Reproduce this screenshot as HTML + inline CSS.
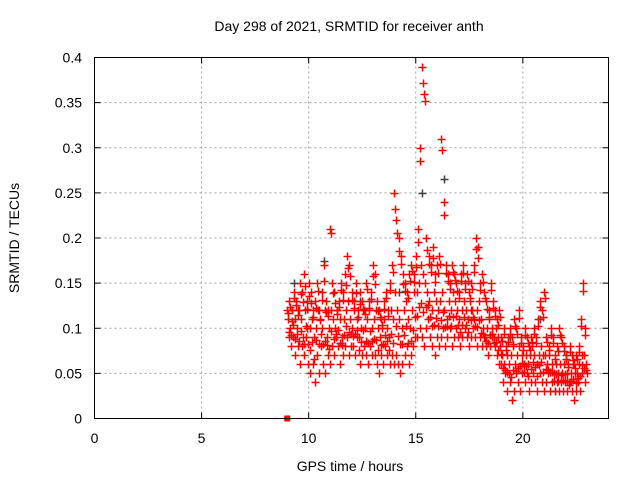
<!DOCTYPE html>
<html><head><meta charset="utf-8"><style>
body{margin:0;background:#fff}
svg{display:block;font-family:"Liberation Sans",sans-serif}
</style></head><body>
<svg id="chart" width="640" height="480" viewBox="0 0 640 480">
<rect width="640" height="480" fill="#fff"/>
<text x="349" y="31" font-size="14" text-anchor="middle">Day 298 of 2021, SRMTID for receiver anth</text>
<g id="grid"></g><g id="ticks"></g><g id="marks"></g>
<rect x="94.5" y="57.5" width="514" height="361" fill="none" stroke="#000"/>
<text x="350" y="471" font-size="14" text-anchor="middle">GPS time / hours</text>
<text transform="translate(19,238) rotate(-90)" font-size="14" text-anchor="middle">SRMTID / TECUs</text>
</svg>
<script>
const xTicks=[0,5,10,15,20];
const yTicks=[0,0.05,0.1,0.15,0.2,0.25,0.3,0.35,0.4];
const yTickLabels=["0","0.05","0.1","0.15","0.2","0.25","0.3","0.35","0.4"];
const startHour=9.0;
const stepHour=0.1;
const seriesA=[.12,.13,.12,.14,.13,.12,.15,.14,.16,.13,
.15,.14,.12,.13,.15,.12,.14,.17,.13,.12,
.21,.15,.14,.12,.13,.15,.14,.16,.18,.17,
.14,.13,.15,.12,.14,.13,.12,.15,.13,.14,
.17,.16,.13,.12,.11,.13,.14,.12,.15,.17,
.25,.22,.2,.18,.16,.15,.14,.16,.17,.16,
.18,.21,.3,.39,.36,.2,.18,.17,.19,.16,
.17,.18,.31,.24,.17,.16,.15,.17,.16,.15,
.14,.16,.17,.15,.16,.14,.15,.17,.2,.19,
.15,.16,.14,.13,.12,.15,.13,.12,.11,.12,
.09,.1,.08,.09,.1,.09,.11,.1,.12,.09,
.08,.1,.09,.08,.09,.1,.09,.11,.13,.12,
.14,.09,.08,.1,.09,.07,.08,.1,.09,.08,
.07,.06,.08,.07,.06,.07,.08,.11,.15,.1];
const seriesD=[.117,.124,.108,.133,.126,.115,.138,.129,.147,.121,
.136,.128,.113,.122,.141,.109,.131,.152,.118,.114,
.205,.139,.128,.116,.124,.142,.131,.148,.167,.158,
.131,.122,.139,.113,.127,.121,.116,.143,.122,.132,
.158,.149,.119,.113,.104,.121,.133,.114,.142,.162,
.232,.206,.186,.171,.149,.141,.133,.152,.163,.151,
.168,.196,.285,.372,.352,.187,.171,.162,.178,.151,
.161,.171,.297,.226,.161,.152,.143,.162,.153,.141,
.133,.152,.161,.143,.152,.133,.144,.162,.188,.178,
.142,.151,.133,.121,.113,.142,.122,.114,.104,.113,
.086,.094,.076,.085,.094,.083,.102,.094,.111,.084,
.076,.093,.084,.076,.085,.094,.084,.102,.124,.113,
.133,.085,.076,.093,.084,.066,.075,.093,.084,.075,
.066,.057,.074,.065,.056,.066,.074,.102,.141,.093];
const seriesB=[.11,.1,.12,.11,.1,.12,.11,.09,.12,.1,
.1,.11,.09,.1,.12,.11,.1,.12,.09,.1,
.12,.11,.1,.12,.11,.09,.11,.12,.13,.11,
.1,.12,.11,.09,.1,.12,.1,.11,.12,.1,
.11,.12,.1,.09,.1,.11,.1,.09,.12,.11,
.14,.12,.11,.1,.12,.13,.11,.1,.12,.14,
.14,.15,.17,.16,.15,.14,.13,.12,.14,.13,
.12,.13,.14,.12,.11,.13,.12,.14,.13,.12,
.11,.12,.13,.12,.11,.13,.12,.11,.12,.13,
.11,.1,.09,.1,.11,.1,.09,.1,.09,.08,
.07,.06,.07,.06,.07,.08,.06,.07,.08,.07,
.06,.07,.06,.07,.08,.07,.06,.07,.08,.07,
.07,.06,.07,.06,.05,.06,.05,.06,.05,.06,
.05,.04,.05,.06,.05,.05,.06,.07,.07,.06];
const seriesE=[.096,.092,.104,.088,.094,.086,.097,.082,.103,.083,
.076,.085,.066,.087,.083,.094,.082,.086,.081,.077,
.097,.088,.094,.098,.084,.081,.093,.103,.096,.094,
.091,.094,.098,.076,.085,.098,.086,.084,.097,.086,
.088,.087,.076,.081,.083,.093,.086,.076,.094,.084,
.103,.091,.083,.082,.093,.103,.084,.086,.098,.113,
.114,.124,.128,.118,.124,.126,.112,.103,.104,.111,
.102,.109,.118,.101,.103,.114,.102,.113,.114,.104,
.096,.104,.113,.104,.096,.109,.112,.102,.101,.109,
.095,.094,.086,.084,.093,.094,.084,.085,.076,.071,
.056,.054,.051,.049,.046,.054,.053,.056,.058,.061,
.051,.058,.047,.055,.063,.057,.047,.059,.063,.052,
.055,.054,.052,.051,.042,.049,.041,.048,.043,.049,
.041,.037,.042,.044,.039,.045,.047,.059,.056,.054];
const seriesC=[.09,.08,.09,.07,.08,.06,.08,.07,.09,.06,
.05,.06,.04,.07,.05,.08,.06,.05,.07,.06,
.08,.07,.09,.08,.06,.07,.08,.09,.07,.08,
.08,.07,.09,.06,.07,.08,.07,.06,.08,.07,
.07,.06,.05,.07,.06,.08,.07,.06,.07,.06,
.07,.06,.05,.06,.07,.08,.06,.07,.08,.09,
.09,.1,.09,.08,.1,.11,.09,.08,.07,.09,
.08,.09,.1,.08,.09,.1,.08,.09,.1,.09,
.08,.09,.1,.09,.08,.09,.1,.09,.08,.09,
.08,.09,.08,.07,.08,.09,.08,.07,.06,.06,
.04,.05,.03,.04,.02,.03,.05,.04,.03,.05,
.04,.05,.03,.04,.05,.04,.03,.05,.04,.03,
.04,.05,.03,.04,.03,.04,.03,.04,.03,.04,
.03,.04,.03,.02,.03,.04,.03,.05,.04,.05];
const grayHours=[9.3,10.7,12.4,14.2,15.3,16.3,17.6,19.4,20.8,21.5];
const grayValues=[0.15,0.175,0.13,0.14,0.25,0.265,0.12,0.09,0.11,0.03];
const X0=94.5,X1=608.5,Y0=418.5,Y1=57.5,XMAX=24,YMAX=0.4;
const sx=v=>X0+v/XMAX*(X1-X0);
const sy=v=>Y0-v/YMAX*(Y0-Y1);
const NS="http://www.w3.org/2000/svg";
function mk(tag,attrs,parent){const e=document.createElementNS(NS,tag);for(const k in attrs)e.setAttribute(k,attrs[k]);parent.appendChild(e);return e;}
const grid=document.getElementById('grid'),ticks=document.getElementById('ticks'),marks=document.getElementById('marks');
xTicks.forEach(t=>{const x=sx(t);
 if(t>0){const g=mk('line',{x1:x,y1:Y0,x2:x,y2:Y1,stroke:'#a0a0a0','stroke-dasharray':'2,3'},grid);
 
 }
 mk('line',{x1:x,y1:Y0,x2:x,y2:Y0-6,stroke:'#000'},ticks);mk('line',{x1:x,y1:Y1,x2:x,y2:Y1+6,stroke:'#000'},ticks);
 const l=mk('text',{x:x,y:443,'font-size':14,'text-anchor':'middle'},ticks);l.textContent=t;
 
 });
yTicks.forEach((t,i)=>{const y=sy(t);
 if(i>0&&i<yTicks.length-1){const g=mk('line',{x1:X0,y1:y,x2:X1,y2:y,stroke:'#a0a0a0','stroke-dasharray':'2,3'},grid);
 
 }
 mk('line',{x1:X0,y1:y,x2:X0+6,y2:y,stroke:'#000'},ticks);mk('line',{x1:X1,y1:y,x2:X1-6,y2:y,stroke:'#000'},ticks);
 const l=mk('text',{x:82,y:y+5,'font-size':14,'text-anchor':'end'},ticks);l.textContent=yTickLabels[i];
 
 });
function plus(h,v,color,name){const x=Math.round(sx(h))+0.5,y=Math.round(sy(v))+0.5;
 const p=mk('path',{d:`M${x-4},${y}H${x+4}M${x},${y-4}V${y+4}`,stroke:color,'stroke-width':1.5,fill:'none'},marks);
 
 }
grayHours.forEach((h,i)=>plus(h,grayValues[i],'#404040','gray-point'));
[seriesA,seriesD,seriesB,seriesE,seriesC].forEach((s,k)=>s.forEach((v,i)=>plus(startHour+i*stepHour+k*0.02,v,'#ff0000','srmtid-point')));
const sq=mk('rect',{x:sx(9)-3,y:Y0-3,width:6,height:6,fill:'#ff0000'},marks);


</script>
</body></html>
